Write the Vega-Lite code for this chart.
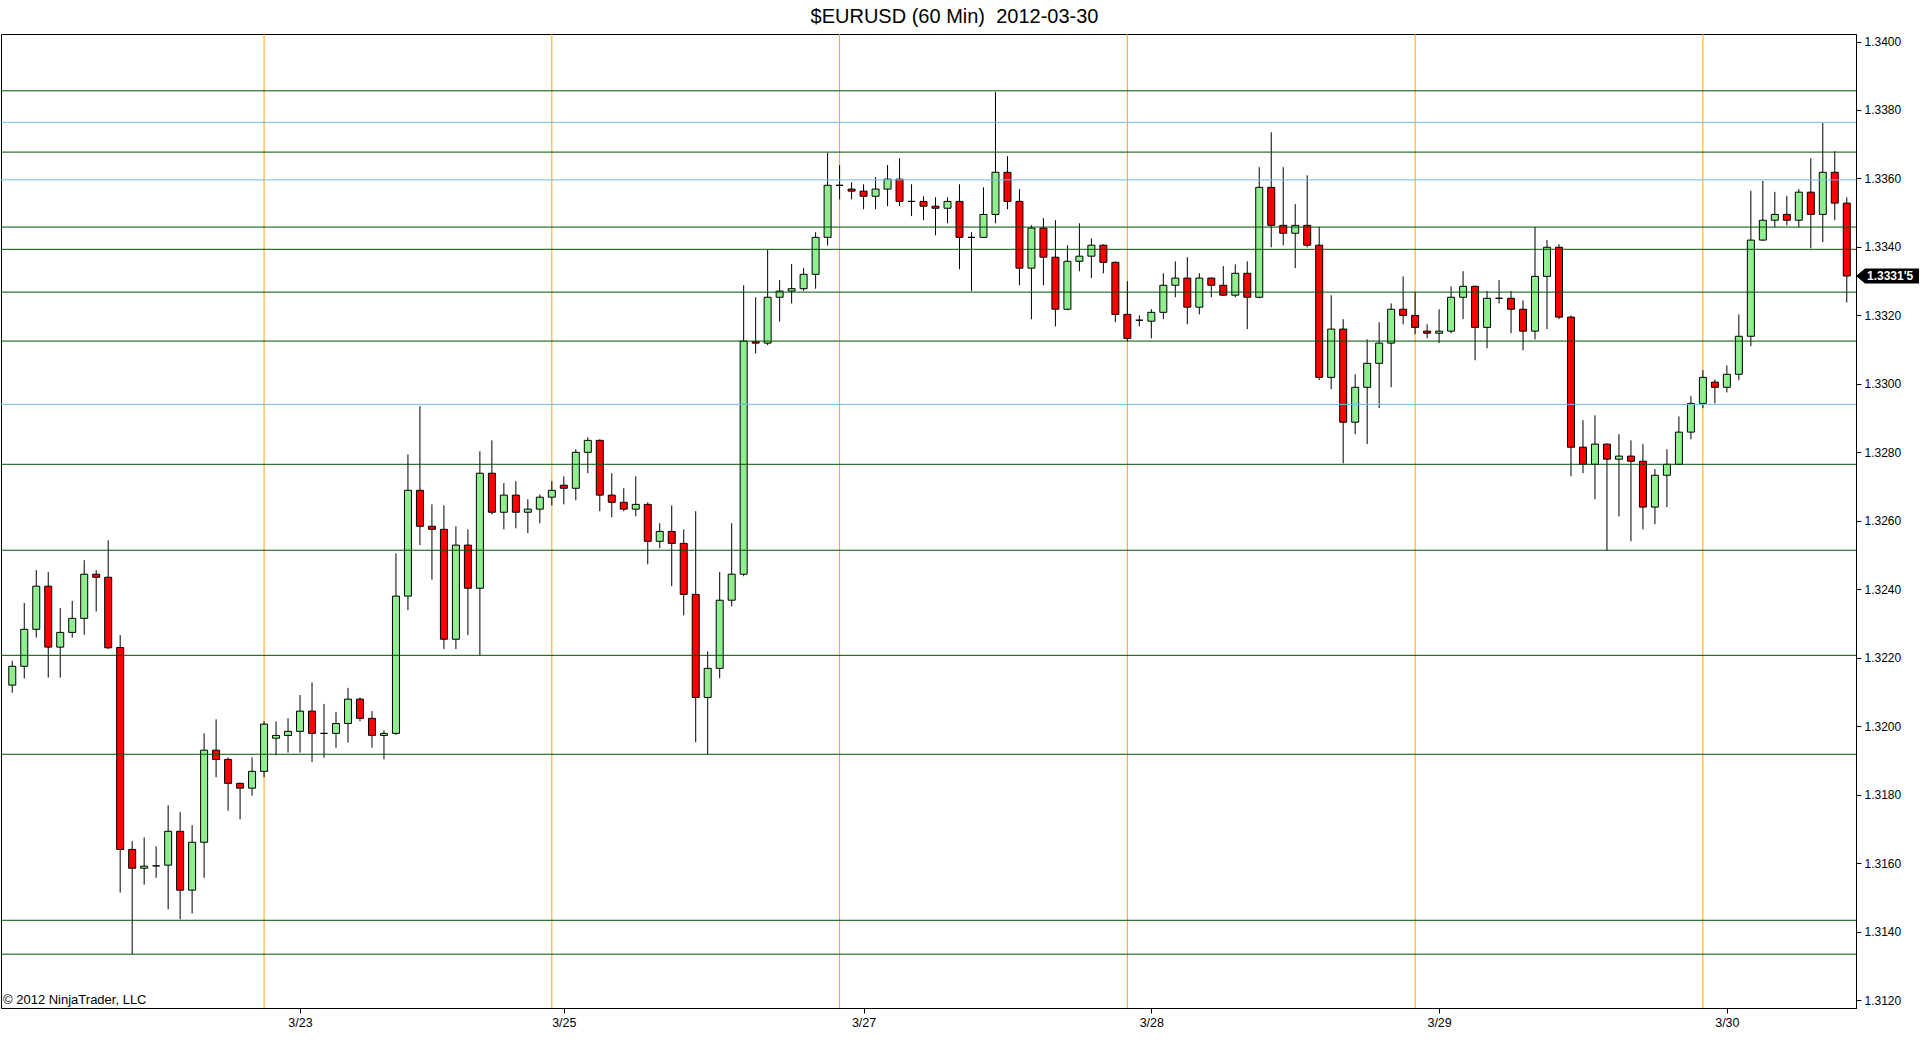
{
  "$schema": "https://vega.github.io/schema/vega-lite/v6.json",
  "width": 1855,
  "height": 974,
  "autosize": {"type": "none"},
  "padding": {"left": 1, "top": 34, "right": 64, "bottom": 56},
  "background": "white",
  "title": {
    "text": "$EURUSD (60 Min)\u00a0 2012-03-30",
    "font": "Liberation Sans",
    "fontSize": 20,
    "fontWeight": "normal",
    "color": "black",
    "anchor": "middle",
    "frame": "group",
    "baseline": "alphabetic",
    "offset": 12,
    "dx": 26,
    "dy": 21
  },
  "config": {
    "view": {"stroke": "black", "strokeWidth": 1},
    "scale": {"continuousPadding": 0},
    "axis": {
      "labelFont": "Liberation Sans",
      "labelColor": "black",
      "domainColor": "black",
      "tickColor": "black",
      "grid": false,
      "title": null
    }
  },
  "datasets": {
    "candles": [
      {"bar":0,"o":1.32120,"h":1.32191,"l":1.32098,"c":1.32175},
      {"bar":1,"o":1.32175,"h":1.32360,"l":1.32139,"c":1.32283},
      {"bar":2,"o":1.32283,"h":1.32456,"l":1.32259,"c":1.32409},
      {"bar":3,"o":1.32409,"h":1.32450,"l":1.32142,"c":1.32231},
      {"bar":4,"o":1.32231,"h":1.32345,"l":1.32142,"c":1.32274},
      {"bar":5,"o":1.32274,"h":1.32366,"l":1.32259,"c":1.32315},
      {"bar":6,"o":1.32315,"h":1.32485,"l":1.32267,"c":1.32444},
      {"bar":7,"o":1.32444,"h":1.32456,"l":1.32335,"c":1.32435},
      {"bar":8,"o":1.32435,"h":1.32543,"l":1.32225,"c":1.32229},
      {"bar":9,"o":1.32230,"h":1.32266,"l":1.31514,"c":1.31640},
      {"bar":10,"o":1.31640,"h":1.31664,"l":1.31334,"c":1.31585},
      {"bar":11,"o":1.31585,"h":1.31675,"l":1.31537,"c":1.31591},
      {"bar":12,"o":1.31592,"h":1.31649,"l":1.31557,"c":1.31592},
      {"bar":13,"o":1.31594,"h":1.31769,"l":1.31465,"c":1.31693},
      {"bar":14,"o":1.31693,"h":1.31749,"l":1.31436,"c":1.31521},
      {"bar":15,"o":1.31521,"h":1.31711,"l":1.31453,"c":1.31661},
      {"bar":16,"o":1.31661,"h":1.31979,"l":1.31557,"c":1.31930},
      {"bar":17,"o":1.31930,"h":1.32020,"l":1.31851,"c":1.31903},
      {"bar":18,"o":1.31903,"h":1.31909,"l":1.31753,"c":1.31833},
      {"bar":19,"o":1.31833,"h":1.31835,"l":1.31728,"c":1.31819},
      {"bar":20,"o":1.31819,"h":1.31909,"l":1.31797,"c":1.31868},
      {"bar":21,"o":1.31868,"h":1.32014,"l":1.31851,"c":1.32006},
      {"bar":22,"o":1.31965,"h":1.32014,"l":1.31915,"c":1.31973},
      {"bar":23,"o":1.31973,"h":1.32023,"l":1.31923,"c":1.31985},
      {"bar":24,"o":1.31985,"h":1.32091,"l":1.31923,"c":1.32044},
      {"bar":25,"o":1.32044,"h":1.32128,"l":1.31895,"c":1.31979},
      {"bar":26,"o":1.31979,"h":1.32065,"l":1.31908,"c":1.31979},
      {"bar":27,"o":1.31979,"h":1.32042,"l":1.31937,"c":1.32008},
      {"bar":28,"o":1.32008,"h":1.32112,"l":1.31952,"c":1.32079},
      {"bar":29,"o":1.32079,"h":1.32084,"l":1.32014,"c":1.32023},
      {"bar":30,"o":1.32023,"h":1.32044,"l":1.31937,"c":1.31973},
      {"bar":31,"o":1.31973,"h":1.31988,"l":1.31903,"c":1.31979},
      {"bar":32,"o":1.31979,"h":1.32505,"l":1.31975,"c":1.32380},
      {"bar":33,"o":1.32380,"h":1.32794,"l":1.32339,"c":1.32689},
      {"bar":34,"o":1.32689,"h":1.32935,"l":1.32529,"c":1.32584},
      {"bar":35,"o":1.32584,"h":1.32648,"l":1.32428,"c":1.32575},
      {"bar":36,"o":1.32575,"h":1.32645,"l":1.32225,"c":1.32254},
      {"bar":37,"o":1.32254,"h":1.32584,"l":1.32225,"c":1.32529},
      {"bar":38,"o":1.32529,"h":1.32575,"l":1.32266,"c":1.32403},
      {"bar":39,"o":1.32403,"h":1.32803,"l":1.32207,"c":1.32739},
      {"bar":40,"o":1.32739,"h":1.32835,"l":1.32619,"c":1.32625},
      {"bar":41,"o":1.32625,"h":1.32710,"l":1.32575,"c":1.32675},
      {"bar":42,"o":1.32675,"h":1.32716,"l":1.32578,"c":1.32625},
      {"bar":43,"o":1.32625,"h":1.32663,"l":1.32564,"c":1.32634},
      {"bar":44,"o":1.32634,"h":1.32677,"l":1.32593,"c":1.32669},
      {"bar":45,"o":1.32669,"h":1.32716,"l":1.32645,"c":1.32689},
      {"bar":46,"o":1.32704,"h":1.32730,"l":1.32648,"c":1.32695},
      {"bar":47,"o":1.32695,"h":1.32809,"l":1.32660,"c":1.32800},
      {"bar":48,"o":1.32800,"h":1.32844,"l":1.32739,"c":1.32835},
      {"bar":49,"o":1.32835,"h":1.32838,"l":1.32628,"c":1.32675},
      {"bar":50,"o":1.32675,"h":1.32739,"l":1.32610,"c":1.32654},
      {"bar":51,"o":1.32654,"h":1.32695,"l":1.32628,"c":1.32634},
      {"bar":52,"o":1.32634,"h":1.32730,"l":1.32613,"c":1.32648},
      {"bar":53,"o":1.32648,"h":1.32654,"l":1.32473,"c":1.32540},
      {"bar":54,"o":1.32540,"h":1.32593,"l":1.32520,"c":1.32569},
      {"bar":55,"o":1.32569,"h":1.32645,"l":1.32409,"c":1.32534},
      {"bar":56,"o":1.32534,"h":1.32575,"l":1.32324,"c":1.32385},
      {"bar":57,"o":1.32385,"h":1.32628,"l":1.31953,"c":1.32084},
      {"bar":58,"o":1.32084,"h":1.32219,"l":1.31918,"c":1.32169},
      {"bar":59,"o":1.32169,"h":1.32450,"l":1.32140,"c":1.32368},
      {"bar":60,"o":1.32368,"h":1.32593,"l":1.32350,"c":1.32444},
      {"bar":61,"o":1.32444,"h":1.33288,"l":1.32438,"c":1.33125},
      {"bar":62,"o":1.33123,"h":1.33253,"l":1.33089,"c":1.33119},
      {"bar":63,"o":1.33119,"h":1.33391,"l":1.33113,"c":1.33253},
      {"bar":64,"o":1.33253,"h":1.33303,"l":1.33182,"c":1.33271},
      {"bar":65,"o":1.33271,"h":1.33350,"l":1.33235,"c":1.33278},
      {"bar":66,"o":1.33278,"h":1.33338,"l":1.33272,"c":1.33320},
      {"bar":67,"o":1.33320,"h":1.33443,"l":1.33278,"c":1.33428},
      {"bar":68,"o":1.33428,"h":1.33675,"l":1.33404,"c":1.33580},
      {"bar":69,"o":1.33580,"h":1.33639,"l":1.33539,"c":1.33580},
      {"bar":70,"o":1.33569,"h":1.33589,"l":1.33539,"c":1.33563},
      {"bar":71,"o":1.33563,"h":1.33583,"l":1.33510,"c":1.33548},
      {"bar":72,"o":1.33548,"h":1.33604,"l":1.33510,"c":1.33569},
      {"bar":73,"o":1.33569,"h":1.33639,"l":1.33519,"c":1.33598},
      {"bar":74,"o":1.33598,"h":1.33659,"l":1.33519,"c":1.33533},
      {"bar":75,"o":1.33533,"h":1.33583,"l":1.33490,"c":1.33533},
      {"bar":76,"o":1.33533,"h":1.33548,"l":1.33478,"c":1.33519},
      {"bar":77,"o":1.33519,"h":1.33545,"l":1.33434,"c":1.33513},
      {"bar":78,"o":1.33513,"h":1.33545,"l":1.33469,"c":1.33533},
      {"bar":79,"o":1.33533,"h":1.33583,"l":1.33335,"c":1.33428},
      {"bar":80,"o":1.33428,"h":1.33443,"l":1.33271,"c":1.33428},
      {"bar":81,"o":1.33428,"h":1.33574,"l":1.33426,"c":1.33495},
      {"bar":82,"o":1.33495,"h":1.33853,"l":1.33469,"c":1.33618},
      {"bar":83,"o":1.33618,"h":1.33665,"l":1.33510,"c":1.33533},
      {"bar":84,"o":1.33533,"h":1.33569,"l":1.33288,"c":1.33338},
      {"bar":85,"o":1.33338,"h":1.33463,"l":1.33189,"c":1.33455},
      {"bar":86,"o":1.33455,"h":1.33484,"l":1.33288,"c":1.33370},
      {"bar":87,"o":1.33370,"h":1.33478,"l":1.33168,"c":1.33218},
      {"bar":88,"o":1.33218,"h":1.33405,"l":1.33215,"c":1.33358},
      {"bar":89,"o":1.33358,"h":1.33469,"l":1.33329,"c":1.33373},
      {"bar":90,"o":1.33373,"h":1.33425,"l":1.33309,"c":1.33405},
      {"bar":91,"o":1.33405,"h":1.33408,"l":1.33323,"c":1.33355},
      {"bar":92,"o":1.33355,"h":1.33358,"l":1.33180,"c":1.33203},
      {"bar":93,"o":1.33203,"h":1.33300,"l":1.33124,"c":1.33133},
      {"bar":94,"o":1.33186,"h":1.33200,"l":1.33168,"c":1.33186},
      {"bar":95,"o":1.33183,"h":1.33218,"l":1.33133,"c":1.33209},
      {"bar":96,"o":1.33209,"h":1.33323,"l":1.33189,"c":1.33288},
      {"bar":97,"o":1.33288,"h":1.33358,"l":1.33253,"c":1.33309},
      {"bar":98,"o":1.33309,"h":1.33370,"l":1.33174,"c":1.33224},
      {"bar":99,"o":1.33224,"h":1.33323,"l":1.33203,"c":1.33309},
      {"bar":100,"o":1.33309,"h":1.33311,"l":1.33253,"c":1.33288},
      {"bar":101,"o":1.33288,"h":1.33344,"l":1.33257,"c":1.33259},
      {"bar":102,"o":1.33259,"h":1.33349,"l":1.33253,"c":1.33323},
      {"bar":103,"o":1.33323,"h":1.33358,"l":1.33160,"c":1.33253},
      {"bar":104,"o":1.33253,"h":1.33633,"l":1.33250,"c":1.33574},
      {"bar":105,"o":1.33574,"h":1.33735,"l":1.33399,"c":1.33463},
      {"bar":106,"o":1.33463,"h":1.33633,"l":1.33405,"c":1.33440},
      {"bar":107,"o":1.33440,"h":1.33525,"l":1.33338,"c":1.33463},
      {"bar":108,"o":1.33463,"h":1.33609,"l":1.33399,"c":1.33405},
      {"bar":109,"o":1.33405,"h":1.33458,"l":1.33011,"c":1.33019},
      {"bar":110,"o":1.33019,"h":1.33259,"l":1.32984,"c":1.33160},
      {"bar":111,"o":1.33160,"h":1.33189,"l":1.32768,"c":1.32888},
      {"bar":112,"o":1.32888,"h":1.33028,"l":1.32853,"c":1.32990},
      {"bar":113,"o":1.32990,"h":1.33130,"l":1.32824,"c":1.33060},
      {"bar":114,"o":1.33060,"h":1.33180,"l":1.32929,"c":1.33119},
      {"bar":115,"o":1.33119,"h":1.33235,"l":1.32990,"c":1.33218},
      {"bar":116,"o":1.33218,"h":1.33314,"l":1.33174,"c":1.33200},
      {"bar":117,"o":1.33200,"h":1.33268,"l":1.33145,"c":1.33165},
      {"bar":118,"o":1.33154,"h":1.33174,"l":1.33133,"c":1.33148},
      {"bar":119,"o":1.33148,"h":1.33218,"l":1.33119,"c":1.33154},
      {"bar":120,"o":1.33154,"h":1.33285,"l":1.33148,"c":1.33253},
      {"bar":121,"o":1.33253,"h":1.33329,"l":1.33189,"c":1.33285},
      {"bar":122,"o":1.33285,"h":1.33287,"l":1.33069,"c":1.33165},
      {"bar":123,"o":1.33165,"h":1.33271,"l":1.33104,"c":1.33250},
      {"bar":124,"o":1.33250,"h":1.33303,"l":1.33235,"c":1.33250},
      {"bar":125,"o":1.33250,"h":1.33271,"l":1.33148,"c":1.33218},
      {"bar":126,"o":1.33218,"h":1.33244,"l":1.33098,"c":1.33154},
      {"bar":127,"o":1.33154,"h":1.33458,"l":1.33130,"c":1.33314},
      {"bar":128,"o":1.33314,"h":1.33420,"l":1.33160,"c":1.33399},
      {"bar":129,"o":1.33399,"h":1.33408,"l":1.33189,"c":1.33195},
      {"bar":130,"o":1.33195,"h":1.33200,"l":1.32730,"c":1.32815},
      {"bar":131,"o":1.32815,"h":1.32894,"l":1.32739,"c":1.32765},
      {"bar":132,"o":1.32765,"h":1.32908,"l":1.32663,"c":1.32824},
      {"bar":133,"o":1.32824,"h":1.32826,"l":1.32514,"c":1.32780},
      {"bar":134,"o":1.32780,"h":1.32853,"l":1.32613,"c":1.32789},
      {"bar":135,"o":1.32789,"h":1.32835,"l":1.32540,"c":1.32774},
      {"bar":136,"o":1.32774,"h":1.32824,"l":1.32575,"c":1.32640},
      {"bar":137,"o":1.32640,"h":1.32751,"l":1.32590,"c":1.32733},
      {"bar":138,"o":1.32733,"h":1.32809,"l":1.32640,"c":1.32765},
      {"bar":139,"o":1.32765,"h":1.32905,"l":1.32763,"c":1.32859},
      {"bar":140,"o":1.32859,"h":1.32964,"l":1.32838,"c":1.32943},
      {"bar":141,"o":1.32943,"h":1.33040,"l":1.32929,"c":1.33019},
      {"bar":142,"o":1.33005,"h":1.33013,"l":1.32943,"c":1.32990},
      {"bar":143,"o":1.32990,"h":1.33054,"l":1.32975,"c":1.33028},
      {"bar":144,"o":1.33028,"h":1.33203,"l":1.33011,"c":1.33139},
      {"bar":145,"o":1.33139,"h":1.33564,"l":1.33110,"c":1.33420},
      {"bar":146,"o":1.33420,"h":1.33593,"l":1.33418,"c":1.33478},
      {"bar":147,"o":1.33478,"h":1.33561,"l":1.33458,"c":1.33495},
      {"bar":148,"o":1.33495,"h":1.33549,"l":1.33463,"c":1.33478},
      {"bar":149,"o":1.33478,"h":1.33569,"l":1.33458,"c":1.33560},
      {"bar":150,"o":1.33560,"h":1.33659,"l":1.33396,"c":1.33495},
      {"bar":151,"o":1.33495,"h":1.33762,"l":1.33414,"c":1.33618},
      {"bar":152,"o":1.33618,"h":1.33680,"l":1.33478,"c":1.33528},
      {"bar":153,"o":1.33528,"h":1.33545,"l":1.33238,"c":1.33315}
    ],
    "levels": [
      {"p":1.33856,"kind":"line"},
      {"p":1.33677,"kind":"line"},
      {"p":1.33458,"kind":"line"},
      {"p":1.33393,"kind":"line"},
      {"p":1.33268,"kind":"line"},
      {"p":1.33125,"kind":"line"},
      {"p":1.32765,"kind":"line"},
      {"p":1.32514,"kind":"line"},
      {"p":1.32207,"kind":"line"},
      {"p":1.31918,"kind":"line"},
      {"p":1.31433,"kind":"line"},
      {"p":1.31334,"kind":"line"},
      {"p":1.33764,"kind":"ref"},
      {"p":1.33596,"kind":"ref"},
      {"p":1.32940,"kind":"ref"}
    ],
    "sessions": [
      {"bar":21},{"bar":45},{"bar":69},{"bar":93},{"bar":117},{"bar":141}
    ],
    "last": [
      {"price":1.33315,"label":"1.3331'5"}
    ],
    "notes": [
      {"text":"© 2012 NinjaTrader, LLC"}
    ]
  },
  "layer": [
    {
      "data": {"name": "sessions"},
      "mark": {"type": "rule", "color": "#FFA500", "strokeWidth": 1},
      "encoding": {
        "x": {
          "field": "bar",
          "type": "quantitative",
          "scale": {"domain": [-0.94, 153.77], "nice": false, "zero": false, "padding": 0},
          "axis": {
            "orient": "bottom",
            "values": [24, 46, 71, 95, 119, 143],
            "labelExpr": "{'24':'3/23','46':'3/25','71':'3/27','95':'3/28','119':'3/29','143':'3/30'}[datum.value]",
            "labelFontSize": 12.5,
            "tickSize": 5,
            "labelPadding": 3,
            "labelFlush": false,
            "labelOverlap": false
          }
        }
      }
    },
    {
      "data": {"name": "candles"},
      "mark": {"type": "rule", "color": "black", "strokeWidth": 1},
      "encoding": {
        "x": {"field": "bar", "type": "quantitative"},
        "y": {
          "field": "l",
          "type": "quantitative",
          "scale": {"domain": [1.311768, 1.34022], "nice": false, "zero": false, "padding": 0},
          "axis": {
            "orient": "right",
            "values": [1.312, 1.314, 1.316, 1.318, 1.32, 1.322, 1.324, 1.326, 1.328, 1.33, 1.332, 1.334, 1.336, 1.338, 1.34],
            "format": ".4f",
            "labelFontSize": 12,
            "tickSize": 5,
            "labelPadding": 3,
            "labelOverlap": false
          }
        },
        "y2": {"field": "h"}
      }
    },
    {
      "data": {"name": "candles"},
      "mark": {"type": "bar", "size": 7, "stroke": "black", "strokeWidth": 1},
      "encoding": {
        "x": {"field": "bar", "type": "quantitative"},
        "y": {"field": "o", "type": "quantitative"},
        "y2": {"field": "c"},
        "fill": {
          "condition": {"test": "datum.c > datum.o", "value": "#90EE90"},
          "value": "#FF0000"
        }
      }
    },
    {
      "data": {"name": "levels"},
      "mark": {"type": "rule", "strokeWidth": 1, "opacity": 1},
      "encoding": {
        "y": {"field": "p", "type": "quantitative"},
        "color": {
          "field": "kind",
          "type": "nominal",
          "scale": {"domain": ["line", "ref"], "range": ["#005000", "#6cbfe4"]},
          "legend": null
        }
      }
    },
    {
      "data": {"name": "notes"},
      "mark": {"type": "text", "align": "left", "baseline": "alphabetic", "dx": 2, "dy": -4, "font": "Liberation Sans", "fontSize": 13, "color": "black"},
      "encoding": {
        "x": {"datum": -0.94, "type": "quantitative"},
        "y": {"datum": 1.311768, "type": "quantitative"},
        "text": {"field": "text"}
      }
    },
    {
      "data": {"name": "last"},
      "mark": {
        "type": "point",
        "shape": "M0,0L0.286,-0.238L2,-0.238L2,0.238L0.286,0.238Z",
        "size": 3969,
        "filled": true,
        "color": "black",
        "opacity": 1,
        "strokeWidth": 0
      },
      "encoding": {
        "x": {"datum": 153.77, "type": "quantitative"},
        "y": {"field": "price", "type": "quantitative"}
      }
    },
    {
      "data": {"name": "last"},
      "mark": {"type": "text", "align": "left", "baseline": "middle", "dx": 11, "font": "Liberation Sans", "fontSize": 12, "fontWeight": "bold", "color": "white"},
      "encoding": {
        "x": {"datum": 153.77, "type": "quantitative"},
        "y": {"field": "price", "type": "quantitative"},
        "text": {"field": "label"}
      }
    }
  ]
}
